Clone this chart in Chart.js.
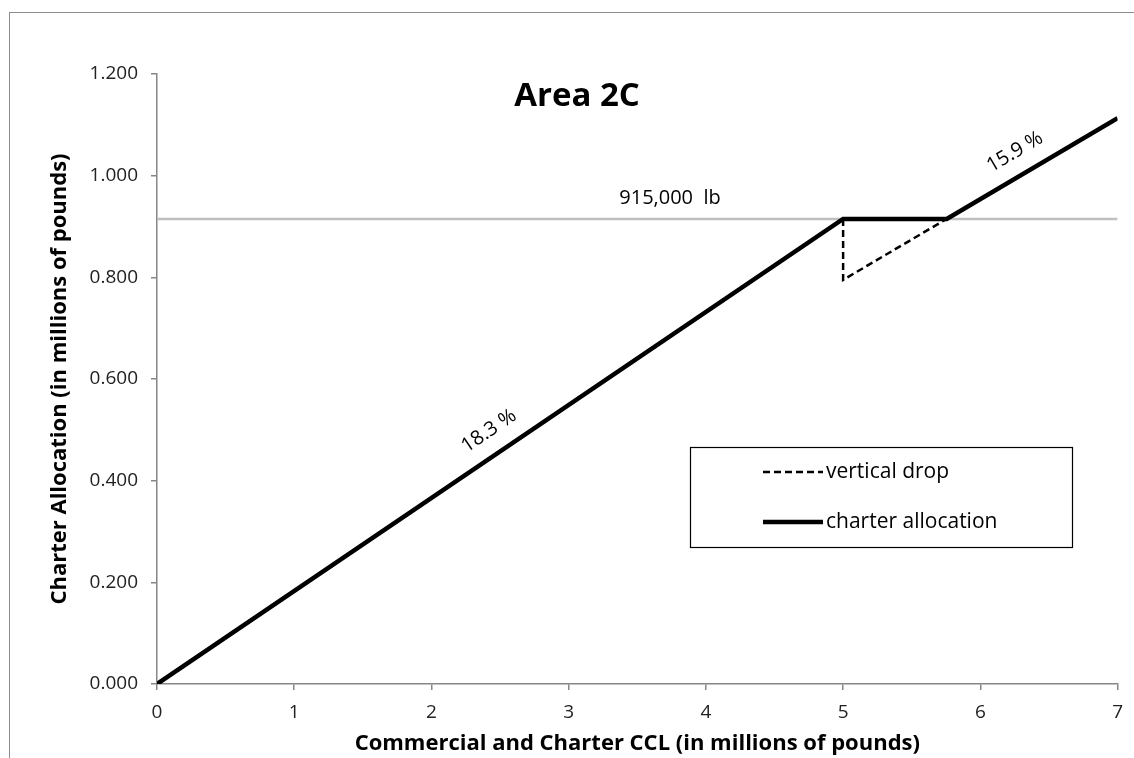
<!DOCTYPE html>
<html>
<head>
<meta charset="utf-8">
<script src="https://cdn.jsdelivr.net/npm/chart.js@4"></script>
<style>
html,body{margin:0;padding:0;background:#fff;overflow:hidden;}
#wrap{position:relative;width:1134px;height:758px;}
#frame{position:absolute;left:9px;top:12px;width:2000px;height:2000px;border:1.5px solid #8c8c8c;box-sizing:border-box;pointer-events:none;}
canvas{position:absolute;left:0;top:0;}
</style>
</head>
<body>
<div id="wrap"><div id="frame"></div><canvas id="c" width="1134" height="758"></canvas></div>
<script>
// Data (millions of pounds)
const allocX = [0, 5, 5.755, 7];
const allocY = [0, 0.915, 0.915, 1.113];
const dropX = [5, 5, 5.755];
const dropY = [0.915, 0.795, 0.915];
const limitX = [0, 7];
const limitY = [0.915, 0.915];
const xTicks = [0, 1, 2, 3, 4, 5, 6, 7];
const yTicks = [0, 0.2, 0.4, 0.6, 0.8, 1.0, 1.2];

const pts = (xs, ys) => xs.map((x, i) => ({x: x, y: ys[i]}));
const FONT = '"Open Sans", Lato, sans-serif';

const overlay = {
  id: 'overlay',
  afterDatasetsDraw(chart) {
    const ctx = chart.ctx;
    const xs = chart.scales.x, ys = chart.scales.y;
    ctx.save();
    ctx.fillStyle = '#000';
    ctx.textAlign = 'center';
    ctx.textBaseline = 'middle';
    // Title
    ctx.font = 'bold 33px ' + FONT;
    ctx.fillText('Area 2C', 577, 97);
    // limit label
    ctx.font = '20px ' + FONT;
    ctx.fillText('915,000  lb', 670, 198);
    // slope labels
    function slopeLabel(text, x0, y0, x1, y1, cx, cy) {
      const a = Math.atan2(ys.getPixelForValue(y1) - ys.getPixelForValue(y0), xs.getPixelForValue(x1) - xs.getPixelForValue(x0));
      ctx.save();
      ctx.translate(cx, cy);
      ctx.rotate(a);
      ctx.font = '20px ' + FONT;
      ctx.fillText(text, 0, 0);
      ctx.restore();
    }
    slopeLabel('18.3 %', allocX[0], allocY[0], allocX[1], allocY[1], 489, 431);
    slopeLabel('15.9 %', allocX[2], allocY[2], allocX[3], allocY[3], 1015, 152);
    // legend
    const L = 690, T = 447, R = 1072, B = 547;
    ctx.lineWidth = 1.2;
    ctx.strokeStyle = '#000';
    ctx.setLineDash([]);
    ctx.strokeRect(L + 0.5, T + 0.5, R - L, B - T);
    const ds = chart.data.datasets;
    const items = [[ds[1], 472], [ds[0], 522]];
    ctx.textAlign = 'left';
    ctx.font = '21px ' + FONT;
    items.forEach(([d, y]) => {
      ctx.beginPath();
      ctx.lineWidth = d.borderWidth;
      ctx.setLineDash(d.borderDash || []);
      ctx.strokeStyle = d.borderColor;
      ctx.moveTo(763, y);
      ctx.lineTo(823, y);
      ctx.stroke();
      ctx.setLineDash([]);
      ctx.fillStyle = '#000';
      ctx.fillText(d.label, 826, y);
    });
    ctx.restore();
  }
};

new Chart(document.getElementById('c'), {
  type: 'scatter',
  data: {
    datasets: [
      {label: 'charter allocation', data: pts(allocX, allocY), showLine: true, borderColor: '#000', borderWidth: 4.5, pointRadius: 0, order: 1},
      {label: 'vertical drop', data: pts(dropX, dropY), showLine: true, borderColor: '#000', borderWidth: 2.5, borderDash: [7, 4], pointRadius: 0, order: 2},
      {label: 'limit', data: pts(limitX, limitY), showLine: true, borderColor: '#bfbfbf', borderWidth: 2.5, pointRadius: 0, order: 3}
    ]
  },
  options: {
    responsive: false,
    animation: false,
    devicePixelRatio: 1,
    layout: {padding: {left: 0, right: 7, top: 74, bottom: 0}},
    plugins: {legend: {display: false}, tooltip: {enabled: false}},
    scales: {
      x: {
        type: 'linear', min: 0, max: 7,
        afterBuildTicks: s => { s.ticks = xTicks.map(v => ({value: v})); },
        afterFit: s => { s.height = 74; },
        border: {color: '#868686', width: 1.5},
        grid: {drawOnChartArea: false, color: '#868686', tickLength: 6, lineWidth: 1.5},
        ticks: {color: '#222', font: {family: FONT, size: 19}, padding: 11, maxRotation: 0},
        title: {display: true, text: 'Commercial and Charter CCL (in millions of pounds)', color: '#000', font: {family: FONT, size: 22, weight: 'bold'}, padding: {top: 0, bottom: 1}}
      },
      y: {
        type: 'linear', min: 0, max: 1.2,
        afterBuildTicks: s => { s.ticks = yTicks.map(v => ({value: v})); },
        afterFit: s => { s.width = 157; },
        border: {color: '#868686', width: 1.5},
        grid: {drawOnChartArea: false, color: '#868686', tickLength: 6, lineWidth: 1.5},
        ticks: {color: '#222', font: {family: FONT, size: 19}, padding: 13, callback: v => v.toFixed(3)},
        title: {display: true, text: 'Charter Allocation (in millions of pounds)', color: '#000', font: {family: FONT, size: 22, weight: 'bold'}, padding: {top: 47, bottom: 0}}
      }
    }
  },
  plugins: [overlay]
});
</script>
</body>
</html>
